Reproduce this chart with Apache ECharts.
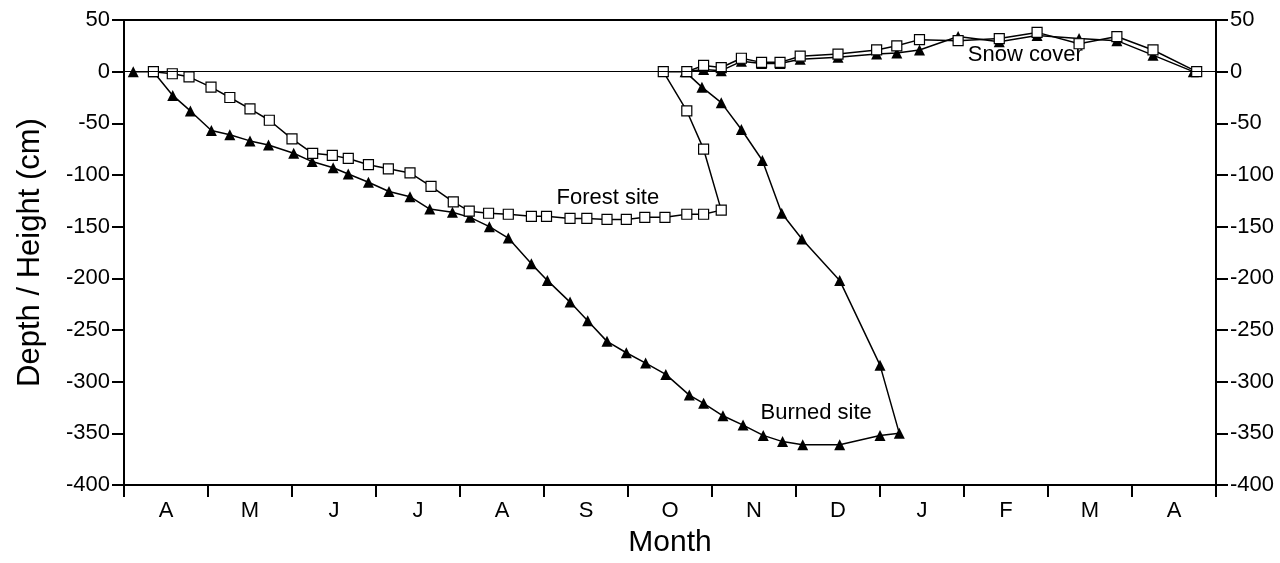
<!DOCTYPE html>
<html>
<head>
<meta charset="utf-8">
<script src="https://cdn.jsdelivr.net/npm/echarts@6/dist/echarts.min.js"></script>
<style>
html,body{margin:0;padding:0;background:#fff;}
#chart{width:1280px;height:563px;}
</style>
</head>
<body>
<div id="chart"></div>
<script>
// Month labels (April through April)
const months = ['A','M','J','J','A','S','O','N','D','J','F','M','A'];
const yTicks = {min: -400, max: 50, interval: 50};

// Burned site (triangles): x in months since start of April, y in cm
const burnedX = [0.11,0.35,0.58,0.79,1.04,1.26,1.5,1.72,2.02,2.24,2.49,2.67,2.91,3.155,3.405,3.64,3.91,4.12,4.35,4.575,4.85,5.04,5.31,5.52,5.75,5.98,6.21,6.45,6.73,6.9,7.13,7.37,7.61,7.84,8.08,8.52,9.0,9.23,
  9.0,8.52,8.07,7.83,7.6,7.35,7.11,6.88,6.68,
  6.9,7.11,7.35,7.59,7.81,8.05,8.5,8.96,9.2,9.47,9.93,10.42,10.87,11.37,11.82,12.25,12.73];
const burnedY = [0,0,-23,-38,-57,-61,-67,-71,-79,-87,-93,-99,-107,-116,-121,-133,-136,-141,-150,-161,-186,-202,-223,-241,-261,-272,-282,-293,-313,-321,-333,-342,-352,-358,-361,-361,-352,-350,
  -284,-202,-162,-137,-86,-56,-30,-15,0,
  2,1,10,8,8,12,14,17,18,21,34,29,35,32,30,16,0];

// Forest site (open squares)
const forestX = [0.35,0.575,0.774,1.036,1.26,1.5,1.73,2.0,2.246,2.48,2.67,2.91,3.147,3.405,3.655,3.92,4.11,4.34,4.575,4.85,5.03,5.31,5.51,5.75,5.98,6.2,6.44,6.7,6.9,7.11,
  6.9,6.7,6.42,
  6.7,6.9,7.11,7.35,7.59,7.81,8.05,8.5,8.96,9.2,9.47,9.93,10.42,10.87,11.37,11.82,12.25,12.77];
const forestY = [0,-2,-5,-15,-25,-36,-47,-65,-79,-81,-84,-90,-94,-98,-111,-126,-135,-137,-138,-140,-140,-142,-142,-143,-143,-141,-141,-138,-138,-134,
  -75,-38,0,
  0,6,4,13,9,9,15,17,21,25,31,30,32,38,27,34,21,0];

// Text annotations placed in data coordinates
const noteX = [5.76, 8.24, 10.73];
const noteY = [-122, -330, 16];
const noteText = ['Forest site', 'Burned site', 'Snow cover'];

const FONT = '"Liberation Sans", Arial, Helvetica, sans-serif';
const zip = (xs, ys) => xs.map((x, i) => [x, ys[i]]);

const chart = echarts.init(document.getElementById('chart'), null, {renderer: 'canvas'});
const axisLine = {show: true, onZero: false, lineStyle: {color: '#000', width: 2}};
const yAxisCommon = {
  type: 'value', min: yTicks.min, max: yTicks.max, interval: yTicks.interval,
  axisLine: axisLine,
  axisTick: {show: true, length: 12, lineStyle: {color: '#000', width: 2}},
  axisLabel: {color: '#000', fontSize: 22, fontFamily: FONT, margin: 14},
  splitLine: {show: false}
};

chart.setOption({
  animation: false,
  backgroundColor: '#fff',
  grid: {left: 124, right: 64, top: 20, bottom: 74, show: true, borderColor: '#000', borderWidth: 2, backgroundColor: 'transparent'},
  xAxis: [
    {
      type: 'category', data: months, position: 'bottom', boundaryGap: true,
      axisLine: axisLine,
      axisTick: {show: true, length: 12, lineStyle: {color: '#000', width: 2}},
      axisLabel: {color: '#000', fontSize: 22, fontFamily: FONT, margin: 15},
      name: 'Month', nameLocation: 'middle', nameGap: 43,
      nameTextStyle: {color: '#000', fontSize: 30, fontFamily: FONT},
      splitLine: {show: false}
    },
    {
      type: 'value', min: 0, max: 13, position: 'bottom', show: false,
      axisLine: {onZero: false}
    }
  ],
  yAxis: [
    Object.assign({}, yAxisCommon, {
      position: 'left',
      name: 'Depth / Height (cm)', nameLocation: 'middle', nameGap: 78, nameRotate: 90,
      nameTextStyle: {color: '#000', fontSize: 31, fontFamily: FONT}
    }),
    Object.assign({}, yAxisCommon, {position: 'right'})
  ],
  series: [
    {
      name: 'Burned site', type: 'line', xAxisIndex: 1, yAxisIndex: 0,
      data: zip(burnedX, burnedY),
      symbol: 'triangle', symbolSize: 11, showAllSymbol: true,
      lineStyle: {color: '#000', width: 1.5},
      itemStyle: {color: '#000', borderColor: '#000', borderWidth: 0},
      markLine: {
        silent: true, symbol: 'none', label: {show: false},
        lineStyle: {color: '#000', width: 1, type: 'solid'},
        data: [{yAxis: 0}]
      },
      z: 2
    },
    {
      name: 'Forest site', type: 'line', xAxisIndex: 1, yAxisIndex: 0,
      data: zip(forestX, forestY),
      symbol: 'rect', symbolSize: 10, showAllSymbol: true,
      lineStyle: {color: '#000', width: 1.5},
      itemStyle: {color: '#fff', borderColor: '#000', borderWidth: 1.2},
      z: 3
    },
    {
      name: 'notes', type: 'scatter', xAxisIndex: 1, yAxisIndex: 0,
      data: noteX.map((x, i) => ({value: [x, noteY[i]], name: noteText[i]})),
      symbolSize: 0, silent: true,
      itemStyle: {opacity: 1},
      label: {show: true, position: 'inside', formatter: '{b}', color: '#000', opacity: 1, fontSize: 22, fontFamily: FONT},
      z: 4
    }
  ]
});
</script>
</body>
</html>
